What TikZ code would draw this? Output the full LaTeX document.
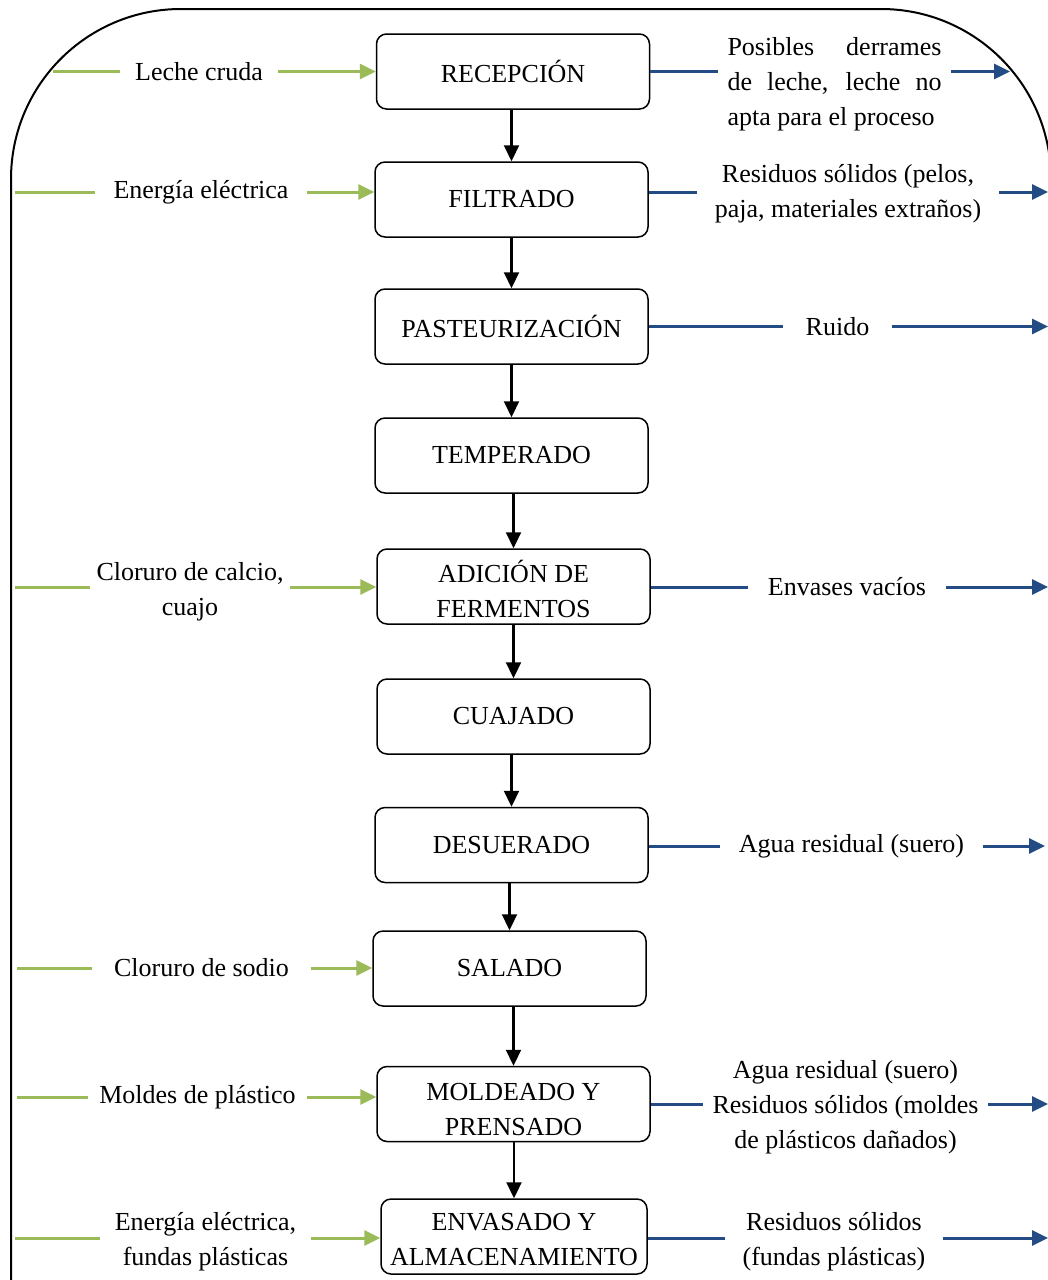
\documentclass[tikz,border=0pt]{standalone}
\usepackage{fontspec}
\setmainfont{Liberation Serif}
\usetikzlibrary{arrows.meta}

\definecolor{inputgreen}{RGB}{155,187,89}
\definecolor{outputblue}{RGB}{36,76,132}

\tikzset{
  procbox/.style={draw, line width=0.75pt, rounded corners=5pt,
    minimum width=136.5pt, minimum height=37.5pt, align=center, inner sep=2pt},
  lbl/.style={align=center, inner sep=0pt},
  inline/.style={inputgreen, line width=1.5pt},
  inarrow/.style={inputgreen, line width=1.5pt, -{Triangle[length=8pt,width=7.5pt]}},
  outline/.style={outputblue, line width=1.5pt},
  outarrow/.style={outputblue, line width=1.5pt, -{Triangle[length=8pt,width=7.5pt]}},
  flow/.style={black, line width=1.1pt, -{Triangle[length=8pt,width=7.5pt]}},
  frame/.style={black, line width=1pt, rounded corners=85pt}
}
% top strut that lowers two-line box texts a little
\newcommand{\topstrut}[1]{\rule{0pt}{#1}}

\begin{document}
\begin{tikzpicture}[x=0.5pt, y=-0.5pt, font=\fontsize{13}{17.5}\selectfont]
\useasboundingbox (0,0) rectangle (1048,1280);

% outer frame
\draw[frame] (11,1300) -- (11,9) -- (1051,9) -- (1051,1300);

% process steps
\node[procbox] (b1)  at (513,71.5)    {RECEPCIÓN};
\node[procbox] (b2)  at (511.5,199.5) {FILTRADO};
\node[procbox] (b3)  at (511.5,326.5) {PASTEURIZACIÓN};
\node[procbox] (b4)  at (511.5,455.5) {TEMPERADO};
\node[procbox] (b5)  at (513.5,586.5) {\topstrut{14pt}ADICIÓN DE\\FERMENTOS};
\node[procbox] (b6)  at (513.5,716.5) {CUAJADO};
\node[procbox] (b7)  at (511.5,845)   {DESUERADO};
\node[procbox] (b8)  at (509.5,968.5) {SALADO};
\node[procbox] (b9)  at (513.5,1104)  {\topstrut{14pt}MOLDEADO Y\\PRENSADO};
\node[procbox, minimum width=133pt] (b10) at (514,1236.5) {\topstrut{12pt}ENVASADO Y\\ALMACENAMIENTO};

% main flow
\foreach \a/\b in {b1/b2,b2/b3,b3/b4,b4/b5,b5/b6,b6/b7,b7/b8,b8/b9,b9/b10}
  \draw[flow] (\b.north |- \a.south) -- (\b.north);

% inputs: free start points on the left
\coordinate (s1)  at (53,71.5);
\coordinate (s2)  at (15,192);
\coordinate (s5)  at (15,587);
\coordinate (s8)  at (17,968);
\coordinate (s9)  at (17,1097);
\coordinate (s10) at (15,1238);

\node[lbl, minimum width=79pt]   (l1)  at (199,71.5)  {Leche cruda};
\node[lbl, minimum width=106pt]  (l2)  at (201,192)   {Energía eléctrica};
\node[lbl, minimum width=100pt]  (l5)  at (190,592)   {Cloruro de calcio,\\cuajo};
\node[lbl, minimum width=109.5pt](l8)  at (201.5,968) {Cloruro de sodio};
\node[lbl, minimum width=109.5pt](l9)  at (197.5,1097){Moldes de plástico};
\node[lbl, minimum width=105.5pt](l10) at (205.5,1242){Energía eléctrica,\\fundas plásticas};

\foreach \i in {1,2,5,8,9,10} {
  \draw[inline] (s\i) -- (s\i -| l\i.west);
  \draw[inarrow] (s\i -| l\i.east) -- (s\i -| b\i.west);
}

% outputs
\node[lbl, minimum width=116.5pt] (r1) at (834.5,84)
  {\makebox[107pt][s]{Posibles derrames}\\
   \makebox[107pt][s]{de leche, leche no}\\
   \makebox[107pt][l]{apta para el proceso}};
\node[lbl, minimum width=151pt]   (r2)  at (848,194)    {Residuos sólidos (pelos,\\paja, materiales extraños)};
\node[lbl, minimum width=54.5pt]  (r3)  at (837.5,326.5){Ruido};
\node[lbl, minimum width=99pt]    (r5)  at (847,587)    {Envases vacíos};
\node[lbl, minimum width=131.5pt] (r7)  at (851.5,846)  {Agua residual (suero)};
\node[lbl, minimum width=142.5pt] (r9)  at (845.5,1107) {Agua residual (suero)\\Residuos sólidos (moldes\\de plásticos dañados)};
\node[lbl, minimum width=109pt]   (r10) at (834,1242)   {Residuos sólidos\\(fundas plásticas)};

% outputs: free end points on the right
\coordinate (e1)  at (1010,71.5);
\coordinate (e2)  at (1048,192);
\coordinate (e3)  at (1048,326.5);
\coordinate (e5)  at (1048,587);
\coordinate (e7)  at (1045,846);
\coordinate (e9)  at (1048,1104);
\coordinate (e10) at (1048,1238);

\foreach \i in {1,2,3,5,7,9,10} {
  \draw[outline]  (e\i -| b\i.east) -- (e\i -| r\i.west);
  \draw[outarrow] (e\i -| r\i.east) -- (e\i);
}
\end{tikzpicture}
\end{document}
